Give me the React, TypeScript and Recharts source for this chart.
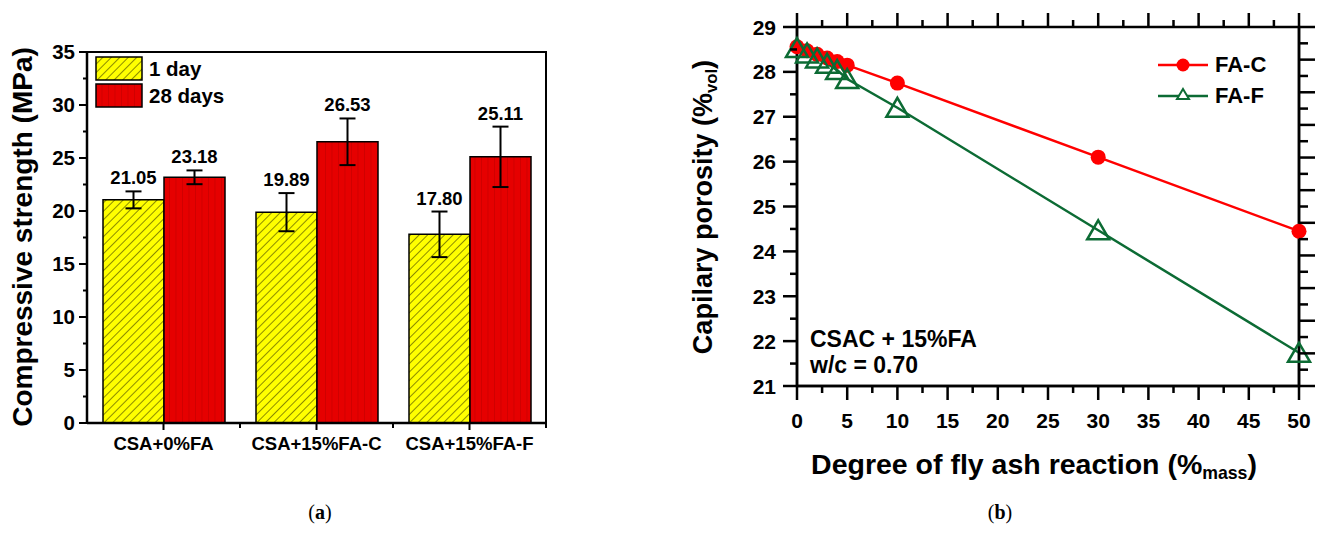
import React from 'react';
import {
    BarChart,
    Bar,
    XAxis,
    YAxis,
    ErrorBar,
    LabelList,
    ComposedChart,
    Line,
    ReferenceArea
} from 'recharts';

const FONT = '"Liberation Sans", Arial, Helvetica, sans-serif';

// (a) compressive strength
const mixes = ['CSA+0%FA', 'CSA+15%FA-C', 'CSA+15%FA-F'];
const day1 = [21.05, 19.89, 17.8];
const day1Err = [0.8, 1.8, 2.15];
const day28 = [23.18, 26.53, 25.11];
const day28Err = [0.65, 2.2, 2.85];
const strengthTicks = [0, 2.5, 5, 7.5, 10, 12.5, 15, 17.5, 20, 22.5, 25, 27.5, 30, 32.5, 35];

// (b) capillary porosity vs. degree of reaction
const reaction = [0, 1, 2, 3, 4, 5, 10, 30, 50];
const porosityC = [28.56, 28.47, 28.39, 28.31, 28.23, 28.15, 27.75, 26.1, 24.45];
const porosityF = [28.53, 28.41, 28.3, 28.18, 28.04, 27.84, 27.2, 24.47, 21.74];
const reactionTicks = [0, 2.5, 5, 7.5, 10, 12.5, 15, 17.5, 20, 22.5, 25, 27.5, 30, 32.5, 35, 37.5, 40, 42.5, 45, 47.5, 50];
const porosityTicks = [21, 21.5, 22, 22.5, 23, 23.5, 24, 24.5, 25, 25.5, 26, 26.5, 27, 27.5, 28, 28.5, 29];
const rightTicks = [0, 0.5, 1, 1.5, 2, 2.5, 3, 3.5, 4, 4.5, 5, 5.5, 6, 6.5, 7, 7.5, 8, 8.5, 9, 9.5, 10, 10.5, 11];

const barData = mixes.map((name, i) => ({
    name,
    d1: day1[i],
    e1: day1Err[i],
    d28: day28[i],
    e28: day28Err[i]
}));

const lineData = reaction.map((x, i) => ({ x, fac: porosityC[i], faf: porosityF[i] }));

const RED = '#e60000';
const GREEN = '#0c6b34';
const BAND = 459 / mixes.length; // width of one group in chart (a)
const PLOT_H = 359; // plot height of chart (b)

function Patterns() {
    return (
        <svg width={0} height={0} style={{ position: 'absolute' }}>
            <defs>
                <pattern id="hatchY" patternUnits="userSpaceOnUse" width={6} height={10} patternTransform="rotate(45)">
                    <rect width={6} height={10} fill="#ffff00" />
                    <line x1={0} y1={0} x2={0} y2={10} stroke="#000" strokeWidth={0.9} />
                </pattern>
                <pattern id="stripeR" patternUnits="userSpaceOnUse" width={6.5} height={10}>
                    <rect width={6.5} height={10} fill={RED} />
                    <line x1={0.5} y1={0} x2={0.5} y2={10} stroke="#c40000" strokeWidth={0.7} />
                </pattern>
            </defs>
        </svg>
    );
}

const txt = (size: number): React.CSSProperties => ({
    position: 'absolute',
    fontFamily: FONT,
    fontWeight: 'bold',
    fontSize: size,
    lineHeight: 1,
    whiteSpace: 'nowrap',
    color: '#000'
});

const num = (v: any) => Number(v);

const strengthTick = (props: any) => {
    const x = num(props.x);
    const y = num(props.y);
    const v = props.payload.value;
    const major = v % 5 === 0;
    const w = major ? 8 : 4;
    return (
        <g key={`s${props.index}`}>
            <rect x={x - w} y={y - 1} width={w} height={2} fill="#000" />
            {major && (
                <text x={x - 12} y={y} dy="0.36em" textAnchor="end" fontFamily={FONT} fontWeight="bold" fontSize={20.5} fill="#000">
                    {v}
                </text>
            )}
        </g>
    );
};

const mixTick = (props: any) => {
    const x = num(props.x);
    const y = num(props.y);
    return (
        <g key={`m${props.index}`}>
            <rect x={x - 1} y={y} width={2} height={7} fill="#000" />
            <rect x={x + BAND / 2 - 1} y={y} width={2} height={5} fill="#000" />
            <text x={x} y={y + 27} textAnchor="middle" fontFamily={FONT} fontWeight="bold" fontSize={18.5} fill="#000">
                {props.payload.value}
            </text>
        </g>
    );
};

const valueLabel = (errs: number[]) => (props: any) => {
    const x = num(props.x);
    const y = num(props.y);
    const width = num(props.width);
    const height = num(props.height);
    const value = num(props.value);
    const top = y - errs[props.index] * (height / value);
    return (
        <text x={x + width / 2} y={top - 7} textAnchor="middle" fontFamily={FONT} fontWeight="bold" fontSize={18.5} fill="#000">
            {value.toFixed(2)}
        </text>
    );
};

// bottom ticks of (b), mirrored on the top frame
const reactionTick = (props: any) => {
    const x = num(props.x);
    const y = num(props.y);
    const v = props.payload.value;
    const major = v % 5 === 0;
    const h = major ? 14 : 7;
    return (
        <g key={`r${props.index}`}>
            <rect x={x - 1.25} y={y} width={2.5} height={h} fill="#000" />
            <rect x={x - 1.25} y={y - PLOT_H - h} width={2.5} height={h} fill="#000" />
            {major && (
                <text x={x} y={y + 42} textAnchor="middle" fontFamily={FONT} fontWeight="bold" fontSize={21} fill="#000">
                    {v}
                </text>
            )}
        </g>
    );
};

const porosityTick = (props: any) => {
    const x = num(props.x);
    const y = num(props.y);
    const v = props.payload.value;
    const major = Number.isInteger(v);
    const w = major ? 14 : 7;
    return (
        <g key={`p${props.index}`}>
            <rect x={x - w} y={y - 1.25} width={w} height={2.5} fill="#000" />
            {major && (
                <text x={x - 21} y={y} dy="0.36em" textAnchor="end" fontFamily={FONT} fontWeight="bold" fontSize={21} fill="#000">
                    {v}
                </text>
            )}
        </g>
    );
};

const rightTick = (props: any) => {
    const x = num(props.x);
    const y = num(props.y);
    const major = Number.isInteger(props.payload.value);
    return (
        <g key={`q${props.index}`}>
            <rect x={x} y={y - 1.25} width={major ? 16 : 9} height={2.5} fill="#000" />
        </g>
    );
};

const circleDot = (p: any) => <circle key={`c${p.index}`} cx={p.cx} cy={p.cy} r={7.5} fill="#ff0000" />;

const triangleDot = (p: any) => (
    <path
        key={`t${p.index}`}
        d={`M${p.cx},${p.cy - 10} L${p.cx + 11},${p.cy + 9} L${p.cx - 11},${p.cy + 9} Z`}
        fill="none"
        stroke={GREEN}
        strokeWidth={2.5}
    />
);

export default function App() {
    return (
        <div style={{ position: 'absolute', left: 0, top: 0, width: 1320, height: 552, background: '#fff', overflow: 'hidden' }}>
            <Patterns />

            {/* (a) */}
            <div style={{ position: 'absolute', left: 0, top: 0 }}>
                <BarChart
                    width={560}
                    height={470}
                    data={barData}
                    margin={{ top: 52, right: 14, bottom: 0, left: 0 }}
                    barGap={0}
                >
                    <XAxis
                        dataKey="name"
                        height={47}
                        interval={0}
                        tickSize={0}
                        tickMargin={0}
                        tickLine={false}
                        tick={mixTick}
                        axisLine={{ stroke: '#000', strokeWidth: 2.5 }}
                    />
                    <YAxis
                        width={87}
                        domain={[0, 35]}
                        ticks={strengthTicks}
                        interval={0}
                        tickSize={0}
                        tickMargin={0}
                        tickLine={false}
                        tick={strengthTick}
                        axisLine={{ stroke: '#000', strokeWidth: 2.5 }}
                    />
                    <ReferenceArea
                        x1={mixes[0]}
                        x2={mixes[mixes.length - 1]}
                        y1={0}
                        y2={35}
                        fill="none"
                        stroke="#000"
                        strokeWidth={2}
                        ifOverflow="visible"
                    />
                    <Bar dataKey="d1" barSize={61} fill="url(#hatchY)" stroke="#000" strokeWidth={1.5} isAnimationActive={false}>
                        <ErrorBar dataKey="e1" width={8} stroke="#000" strokeWidth={2} direction="y" />
                        <LabelList dataKey="d1" content={valueLabel(day1Err)} />
                    </Bar>
                    <Bar dataKey="d28" barSize={61} fill="url(#stripeR)" stroke="#000" strokeWidth={1.5} isAnimationActive={false}>
                        <ErrorBar dataKey="e28" width={8} stroke="#000" strokeWidth={2} direction="y" />
                        <LabelList dataKey="d28" content={valueLabel(day28Err)} />
                    </Bar>
                </BarChart>
            </div>

            {/* legend (a) */}
            <svg style={{ position: 'absolute', left: 95, top: 56 }} width={48} height={53}>
                <rect x={1} y={1} width={46} height={23} fill="url(#hatchY)" stroke="#000" strokeWidth={1.5} />
                <rect x={1} y={28} width={46} height={23} fill="url(#stripeR)" stroke="#000" strokeWidth={1.5} />
            </svg>
            <div style={{ ...txt(20.5), left: 149, top: 59 }}>1 day</div>
            <div style={{ ...txt(20.5), left: 149, top: 86 }}>28 days</div>

            <div style={{ ...txt(28), left: 23, top: 237, transform: 'translate(-50%, -50%) rotate(-90deg)' }}>
                Compressive strength (MPa)
            </div>

            {/* (b) */}
            <div style={{ position: 'absolute', left: 680, top: 0 }}>
                <ComposedChart width={640} height={490} data={lineData} margin={{ top: 27, right: 20, bottom: 0, left: 0 }}>
                    <XAxis
                        dataKey="x"
                        type="number"
                        domain={[0, 50]}
                        ticks={reactionTicks}
                        interval={0}
                        height={104}
                        tickSize={0}
                        tickMargin={0}
                        tickLine={false}
                        tick={reactionTick}
                        axisLine={{ stroke: '#000', strokeWidth: 2.5 }}
                    />
                    <YAxis
                        width={117}
                        type="number"
                        domain={[21, 29]}
                        ticks={porosityTicks}
                        interval={0}
                        tickSize={0}
                        tickMargin={0}
                        tickLine={false}
                        tick={porosityTick}
                        axisLine={{ stroke: '#000', strokeWidth: 2.5 }}
                    />
                    <YAxis
                        yAxisId="r"
                        orientation="right"
                        width={1}
                        type="number"
                        domain={[0, 11]}
                        allowDataOverflow
                        ticks={rightTicks}
                        interval={0}
                        tickSize={0}
                        tickMargin={0}
                        tickLine={false}
                        tick={rightTick}
                        axisLine={{ stroke: '#000', strokeWidth: 2.5 }}
                    />
                    <ReferenceArea x1={0} x2={50} y1={21} y2={29} fill="none" stroke="#000" strokeWidth={2.5} ifOverflow="visible" />
                    {/* keeps the right frame axis bound so its ticks are drawn */}
                    <Line yAxisId="r" dataKey="x" stroke="none" dot={false} activeDot={false} legendType="none" isAnimationActive={false} />
                    <Line type="linear" dataKey="fac" stroke="#ff0000" strokeWidth={2.5} dot={circleDot} activeDot={false} isAnimationActive={false} />
                    <Line type="linear" dataKey="faf" stroke={GREEN} strokeWidth={2.5} dot={triangleDot} activeDot={false} isAnimationActive={false} />
                </ComposedChart>
            </div>

            {/* legend (b) */}
            <svg style={{ position: 'absolute', left: 1156, top: 52 }} width={54} height={56}>
                <line x1={2} x2={52} y1={13} y2={13} stroke="#ff0000" strokeWidth={2.5} />
                <circle cx={27} cy={13} r={6.5} fill="#ff0000" />
                <line x1={2} x2={52} y1={44} y2={44} stroke={GREEN} strokeWidth={2.5} />
                <path d="M27,37 L33,47 L21,47 Z" fill="#fff" stroke={GREEN} strokeWidth={2} />
            </svg>
            <div style={{ ...txt(22), left: 1215, top: 54 }}>FA-C</div>
            <div style={{ ...txt(22), left: 1215, top: 85 }}>FA-F</div>

            <div style={{ ...txt(23), left: 810, top: 328 }}>CSAC + 15%FA</div>
            <div style={{ ...txt(23), left: 810, top: 354 }}>w/c = 0.70</div>

            <div style={{ ...txt(27), left: 705, top: 207, transform: 'translate(-50%, -50%) rotate(-90deg)' }}>
                Capilary porosity (%<sub style={{ fontSize: '0.62em', verticalAlign: '-0.3em' }}>vol</sub>)
            </div>
            <div style={{ ...txt(28.5), left: 1034, top: 466, transform: 'translate(-50%, -50%)' }}>
                Degree of fly ash reaction (%<sub style={{ fontSize: '0.62em', verticalAlign: '-0.3em' }}>mass</sub>)
            </div>

            <div style={{ position: 'absolute', left: 320, top: 512, transform: 'translate(-50%, -50%)', fontFamily: '"Liberation Serif", "DejaVu Serif", serif', fontSize: 20, lineHeight: 1 }}>
                (<b>a</b>)
            </div>
            <div style={{ position: 'absolute', left: 1000, top: 512, transform: 'translate(-50%, -50%)', fontFamily: '"Liberation Serif", "DejaVu Serif", serif', fontSize: 20, lineHeight: 1 }}>
                (<b>b</b>)
            </div>
        </div>
    );
}
